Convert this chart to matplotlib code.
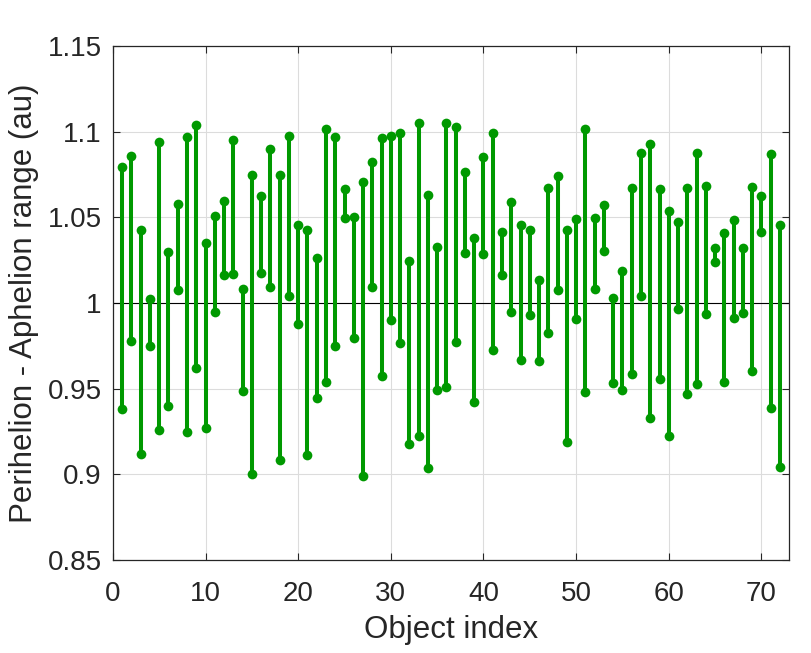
import matplotlib
matplotlib.use("Agg")
import matplotlib.pyplot as plt
import numpy as np

plt.rcParams['font.family'] = ['Liberation Sans', 'DejaVu Sans']

# perihelion / aphelion for each object (au)
perihelion = [0.938, 0.978, 0.912, 0.975, 0.926, 0.940, 1.0075, 0.925, 0.962, 0.927,
              0.995, 1.0163, 1.0167, 0.9486, 0.9004, 1.0176, 1.0096, 0.9082, 1.0039, 0.988,
              0.9112, 0.9445, 0.9541, 0.975, 1.0496, 0.9794, 0.8992, 1.0094, 0.9576, 0.990,
              0.9767, 0.9176, 0.9225, 0.9035, 0.9492, 0.9508, 0.9771, 1.0294, 0.942, 1.0288,
              0.9727, 1.0163, 0.9947, 0.9667, 0.9931, 0.9661, 0.9827, 1.0078, 0.9188, 0.9906,
              0.9482, 1.0082, 1.0304, 0.9531, 0.9492, 0.9586, 1.0043, 0.9329, 0.9555, 0.9222,
              0.9963, 0.9467, 0.9527, 0.9937, 1.0237, 0.9541, 0.9912, 0.9939, 0.9602, 1.0414,
              0.9388, 0.9043]
aphelion = [1.0796, 1.086, 1.0427, 1.0025, 1.094, 1.030, 1.058, 1.0967, 1.1037, 1.035,
            1.0506, 1.0598, 1.0949, 1.0082, 1.0747, 1.0624, 1.090, 1.0745, 1.0976, 1.0457,
            1.0424, 1.0265, 1.1014, 1.0969, 1.0663, 1.0504, 1.0708, 1.0824, 1.0961, 1.0976,
            1.0992, 1.0247, 1.1049, 1.0629, 1.0329, 1.1049, 1.1025, 1.0763, 1.038, 1.0851,
            1.099, 1.0416, 1.059, 1.0453, 1.0427, 1.0133, 1.0671, 1.0741, 1.0427, 1.0492,
            1.1016, 1.0494, 1.0573, 1.0029, 1.0184, 1.0671, 1.0875, 1.0925, 1.0663, 1.0535,
            1.0475, 1.0671, 1.0873, 1.068, 1.032, 1.041, 1.0486, 1.032, 1.0675, 1.0624,
            1.0871, 1.0457]
idx = np.arange(1, len(perihelion) + 1)

green = (0.0, 0.6, 0.0)
txt = '#262626'

fig = plt.figure(figsize=(8.12, 6.53), dpi=100)
ax = fig.add_axes([0.139, 0.1424, 0.833, 0.7872])

for i, p, a in zip(idx, perihelion, aphelion):
    ax.plot([i, i], [p, a], '-o', color=green, lw=2.9, markersize=7,
            markeredgewidth=0, solid_capstyle='butt')

ax.axhline(1.0, color='black', lw=0.8, zorder=1)

ax.set_xlim(0, 73)
ax.set_ylim(0.85, 1.15)
ax.set_xticks(np.arange(0, 71, 10))
ax.set_yticks([0.85, 0.9, 0.95, 1.0, 1.05, 1.1, 1.15])
ax.set_yticklabels(['0.85', '0.9', '0.95', '1', '1.05', '1.1', '1.15'])
ax.grid(True, color='#dcdcdc', lw=0.8)
ax.set_axisbelow(True)
ax.tick_params(direction='in', top=True, right=True, labelsize=20,
               colors=txt, length=5, width=0.8)
ax.tick_params(axis='x', pad=15)
ax.tick_params(axis='y', pad=8)
for s in ax.spines.values():
    s.set_color(txt)
    s.set_linewidth(0.9)

ax.set_xlabel('Object index', fontsize=22.5, color=txt, labelpad=6)
ax.set_ylabel('Perihelion - Aphelion range (au)', fontsize=22.5, color=txt, labelpad=6)

fig.savefig('out.png', dpi=100)
